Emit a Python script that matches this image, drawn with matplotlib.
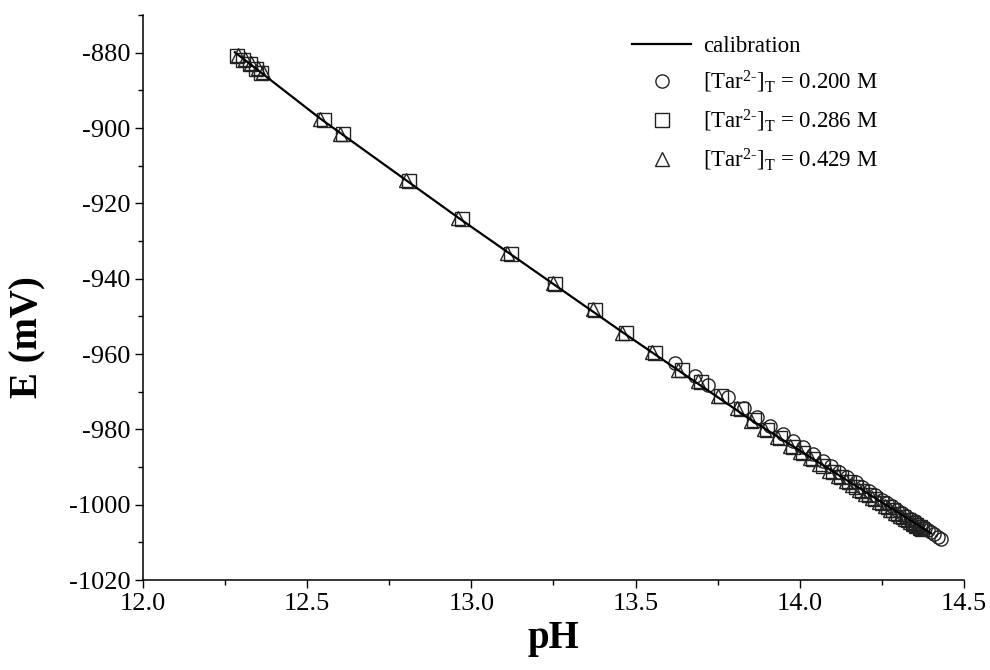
import numpy as np
import matplotlib
matplotlib.use("Agg")
import matplotlib.pyplot as plt
from matplotlib.ticker import MultipleLocator, FormatStrFormatter

plt.rcParams['font.family'] = ['Liberation Serif', 'DejaVu Serif']
plt.rcParams['mathtext.fontset'] = 'custom'
plt.rcParams['mathtext.rm'] = 'Liberation Serif'
plt.rcParams['mathtext.it'] = 'Liberation Serif:italic'
plt.rcParams['axes.unicode_minus'] = False

# calibration line
calib_pH = [12.28, 12.54, 12.96, 13.46, 13.85, 14.40]
calib_E = [-879.9, -897.5, -923.8, -954.2, -977.4, -1007.6]

# [Tar2-]T = 0.200 M (circles)
pH_200 = [13.62, 13.68, 13.72, 13.78, 13.83, 13.87, 13.91, 13.95, 13.98, 14.01,
          14.04, 14.07, 14.095, 14.12, 14.145, 14.17, 14.19, 14.21, 14.23, 14.25,
          14.265, 14.28, 14.295, 14.31, 14.325, 14.34, 14.35, 14.36, 14.37, 14.38,
          14.39, 14.40, 14.41, 14.42, 14.43]
E_200 = [-962.3, -965.8, -968.1, -971.5, -974.4, -976.7, -979.0, -981.3, -983.1, -984.8,
         -986.5, -988.3, -989.7, -991.2, -992.6, -994.0, -995.2, -996.4, -997.5, -998.7,
         -999.5, -1000.4, -1001.3, -1002.1, -1003.0, -1003.9, -1004.4, -1005.0, -1005.6, -1006.2,
         -1006.8, -1007.3, -1007.9, -1008.5, -1009.1]

# [Tar2-]T = 0.286 M (squares)
pH_286 = [12.285, 12.305, 12.325, 12.345, 12.36, 12.55, 12.61, 12.81, 12.97, 13.12,
          13.255, 13.375, 13.47, 13.56, 13.64, 13.70, 13.76, 13.82, 13.86, 13.90,
          13.94, 13.98, 14.01, 14.04, 14.07, 14.10, 14.125, 14.15, 14.17, 14.19,
          14.21, 14.23, 14.25, 14.27, 14.285, 14.30, 14.315, 14.33, 14.345, 14.355,
          14.365, 14.373]
E_286 = [-880.8, -882.0, -883.1, -884.3, -885.3, -897.8, -901.5, -914.0, -924.1, -933.4,
         -941.3, -948.2, -954.3, -959.6, -964.2, -967.5, -971.2, -974.5, -977.6, -980.2,
         -982.4, -984.6, -986.3, -988.0, -989.6, -991.3, -992.7, -994.1, -995.2, -996.3,
         -997.4, -998.5, -999.6, -1000.7, -1001.5, -1002.4, -1003.2, -1004.0, -1004.9, -1005.4,
         -1006.0, -1006.4]

# [Tar2-]T = 0.429 M (triangles)
pH_429 = [12.29, 12.31, 12.33, 12.35, 12.365, 12.54, 12.60, 12.80, 12.96, 13.11,
          13.25, 13.37, 13.46, 13.55, 13.63, 13.69, 13.75, 13.81, 13.85, 13.89,
          13.93, 13.97, 14.00, 14.03, 14.06, 14.09, 14.115, 14.14, 14.16, 14.18,
          14.20, 14.22, 14.24, 14.26, 14.275, 14.29, 14.305, 14.32, 14.335, 14.345,
          14.355, 14.365]
E_429 = [-880.5, -881.6, -882.8, -884.0, -885.0, -897.7, -901.6, -913.9, -924.0, -933.3,
         -941.2, -948.1, -954.4, -959.4, -964.3, -967.2, -971.1, -974.2, -977.7, -979.9,
         -982.1, -984.3, -986.0, -987.7, -989.3, -991.0, -992.4, -993.8, -994.9, -996.0,
         -997.1, -998.2, -999.3, -1000.4, -1001.3, -1002.1, -1002.9, -1003.8, -1004.6, -1005.2,
         -1005.7, -1006.3]

lbl = r'[Tar$^{2\text{-}}$]$_\mathrm{T}$ = '

fig = plt.figure(figsize=(9.9, 6.7), dpi=100)
ax = fig.add_axes([0.1444, 0.1343, 0.8293, 0.8433])

mk = dict(linestyle='none', markerfacecolor='none', markeredgecolor='#222222',
          markeredgewidth=1.0, markersize=9.5)
ax.plot(calib_pH, calib_E, color='black', linewidth=1.6, label='calibration', zorder=3)
ax.plot(pH_200, E_200, marker='o', label=lbl + '0.200 M', **mk)
ax.plot(pH_286, E_286, marker='s', label=lbl + '0.286 M', **mk)
ax.plot(pH_429, E_429, marker='^', label=lbl + '0.429 M', **mk)

ax.set_xlim(12.0, 14.5)
ax.set_ylim(-1020, -870)
ax.xaxis.set_major_locator(MultipleLocator(0.5))
ax.xaxis.set_minor_locator(MultipleLocator(0.25))
ax.yaxis.set_major_locator(MultipleLocator(20))
ax.yaxis.set_minor_locator(MultipleLocator(10))
ax.xaxis.set_major_formatter(FormatStrFormatter('%.1f'))

for s in ['top', 'right']:
    ax.spines[s].set_visible(False)
for s in ['left', 'bottom']:
    ax.spines[s].set_linewidth(1.1)

ax.tick_params(which='major', direction='out', length=6, width=1.0, labelsize=19, pad=3)
ax.tick_params(which='minor', direction='out', length=3.5, width=1.0)

ax.set_xlabel('pH', fontsize=28, fontweight='bold', labelpad=4)
ax.set_ylabel('E (mV)', fontsize=28, fontweight='bold')
ax.yaxis.set_label_coords(-0.118, 0.43)

ax.legend(loc='upper right', frameon=False, fontsize=16.5, handlelength=2.6,
          numpoints=1, labelspacing=0.55, handletextpad=0.5,
          bbox_to_anchor=(0.92, 1.0))

fig.savefig('out.png', dpi=100)
